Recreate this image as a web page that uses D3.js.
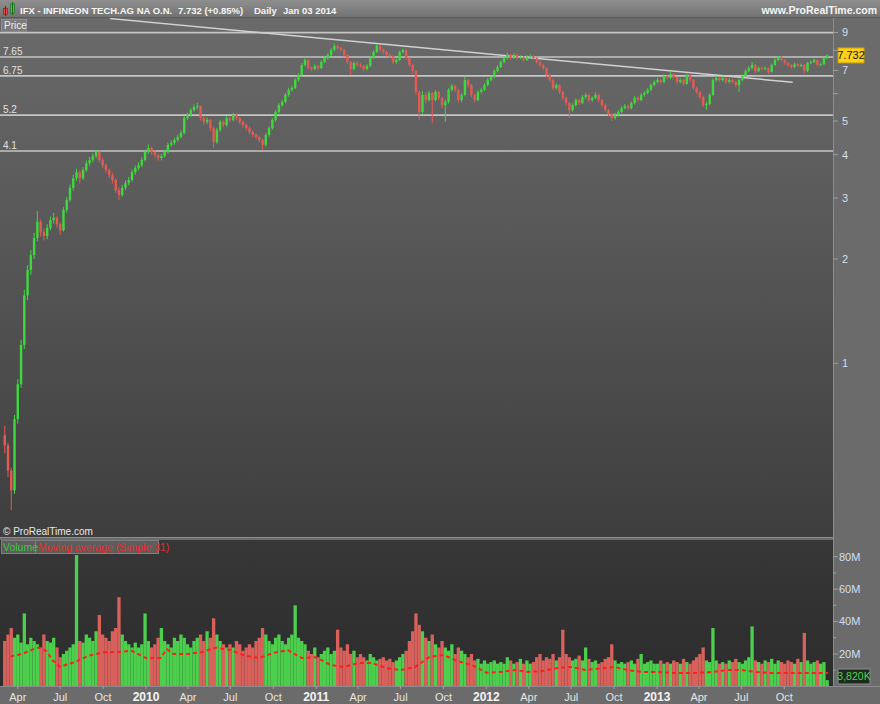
<!DOCTYPE html>
<html><head><meta charset="utf-8">
<script src="https://cdn.jsdelivr.net/npm/d3@7"></script>
<style>
body{margin:0;background:#6b6b6b;}
svg{display:block;font-family:"Liberation Sans",Arial,sans-serif;}
</style>
</head><body>
<svg id="c" width="880" height="704"></svg>
<script>
// ---------------- DATA (weekly bars) ----------------
const startWeek = "2009-03-02";
const firstOpen = 0.62;
const close = [
.58,.49,.43,.69,.87,1.13,1.57,1.86,2.05,2.30,
2.56,2.39,2.33,2.46,2.59,2.63,2.52,2.42,2.77,2.96,
3.21,3.42,3.56,3.42,3.61,3.78,3.86,3.96,4.07,3.86,
3.73,3.61,3.49,3.38,3.16,3.06,3.21,3.31,3.38,3.56,
3.66,3.73,3.86,4.07,4.18,4.07,3.99,3.91,3.96,4.07,
4.27,4.32,4.41,4.50,4.62,5.10,5.21,5.38,5.49,5.52,
5.10,4.97,5.04,4.77,4.35,4.71,4.97,4.87,5.10,5.04,
5.21,5.10,4.97,4.87,4.77,4.65,4.56,4.50,4.41,4.27,
4.56,4.77,5.04,5.31,5.56,5.68,5.95,6.15,6.23,6.57,
6.79,7.26,7.50,7.11,7.07,7.21,7.11,7.40,7.60,7.76,
8.02,8.23,8.13,8.02,7.76,7.40,7.07,7.35,7.26,7.21,
7.07,7.21,7.60,7.91,8.23,8.02,7.91,7.76,7.70,7.40,
7.50,7.91,8.02,7.60,7.26,6.97,6.07,5.31,5.95,5.75,
6.03,5.75,6.07,5.83,5.56,5.68,6.15,6.31,6.15,5.75,
5.95,6.57,6.35,5.95,5.75,6.07,6.15,6.35,6.57,6.70,
6.97,7.16,7.40,7.60,7.76,7.60,7.76,7.60,7.65,7.50,
7.65,7.70,7.60,7.40,7.26,7.11,6.79,6.57,6.23,6.35,
6.07,5.83,5.64,5.38,5.56,5.75,5.64,5.87,5.95,5.75,
5.83,5.95,5.75,5.56,5.38,5.24,5.10,5.21,5.31,5.45,
5.52,5.45,5.64,5.83,5.75,5.95,6.03,6.15,6.35,6.48,
6.57,6.48,6.75,6.66,6.84,6.70,6.48,6.57,6.40,6.79,
6.57,6.23,6.07,5.87,5.56,5.60,5.95,6.57,6.66,6.57,
6.66,6.48,6.57,6.48,6.35,6.57,6.75,6.97,7.11,7.26,
6.97,7.11,7.07,7.11,6.93,7.26,7.50,7.65,7.50,7.35,
7.26,7.16,7.30,7.21,7.26,6.97,7.35,7.40,7.50,7.26,
7.30,7.60,7.732];
const high = [
.66,.59,.50,.71,.90,1.17,1.63,1.92,2.12,2.38,
2.75,2.60,2.45,2.52,2.65,2.72,2.66,2.55,2.82,3.02,
3.28,3.50,3.64,3.60,3.68,3.85,3.94,4.03,4.13,4.10,
3.92,3.78,3.65,3.55,3.42,3.22,3.27,3.37,3.45,3.62,
3.72,3.80,3.93,4.14,4.28,4.22,4.12,4.03,4.02,4.13,
4.33,4.40,4.48,4.57,4.70,5.18,5.28,5.45,5.58,5.65,
5.55,5.16,5.12,5.08,4.82,4.78,5.04,5.02,5.17,5.15,
5.28,5.26,5.14,5.02,4.92,4.82,4.70,4.62,4.55,4.46,
4.62,4.83,5.10,5.38,5.63,5.76,6.03,6.24,6.33,6.65,
6.88,7.35,7.65,7.55,7.20,7.30,7.28,7.48,7.70,7.86,
8.12,8.35,8.30,8.20,8.08,7.82,7.45,7.42,7.44,7.35,
7.28,7.30,7.68,8.00,8.35,8.28,8.10,7.98,7.85,7.75,
7.58,7.98,8.10,8.06,7.65,7.32,7.02,6.12,6.10,6.05,
6.12,6.08,6.15,6.12,5.88,5.76,6.22,6.40,6.36,6.20,
6.03,6.70,6.62,6.40,6.00,6.14,6.24,6.43,6.65,6.78,
7.05,7.25,7.48,7.70,7.88,7.82,7.85,7.82,7.74,7.70,
7.74,7.80,7.76,7.65,7.45,7.32,7.15,6.85,6.62,6.43,
6.40,6.12,5.88,5.68,5.63,5.82,5.80,5.94,6.03,6.00,
5.90,6.05,6.00,5.80,5.62,5.42,5.28,5.28,5.38,5.52,
5.60,5.58,5.70,5.90,5.90,6.02,6.10,6.22,6.42,6.56,
6.66,6.62,6.82,6.80,6.92,6.88,6.74,6.64,6.62,6.86,
6.84,6.62,6.28,6.12,5.92,5.68,6.02,6.64,6.75,6.72,
6.74,6.70,6.64,6.62,6.52,6.62,6.82,7.05,7.20,7.40,
7.30,7.18,7.18,7.18,7.15,7.32,7.58,7.72,7.70,7.55,
7.40,7.30,7.36,7.35,7.33,7.30,7.42,7.48,7.58,7.55,
7.38,7.66,7.78];
const low = [
.55,.47,.377,.42,.67,.85,1.10,1.52,1.80,2.00,
2.25,2.32,2.26,2.28,2.42,2.53,2.46,2.35,2.40,2.72,
2.92,3.15,3.36,3.30,3.38,3.56,3.72,3.80,3.90,3.80,
3.66,3.55,3.42,3.30,3.10,2.96,3.02,3.16,3.26,3.34,
3.50,3.60,3.68,3.82,4.02,4.00,3.92,3.84,3.85,3.92,
4.03,4.22,4.27,4.36,4.45,4.58,5.04,5.15,5.32,5.40,
5.02,4.88,4.90,4.68,4.18,4.30,4.66,4.80,4.82,4.97,
4.99,5.03,4.90,4.80,4.70,4.58,4.49,4.43,4.34,4.13,
4.22,4.51,4.72,4.98,5.26,5.50,5.62,5.88,6.08,6.18,
6.50,6.72,7.18,7.02,6.96,7.00,7.02,7.05,7.34,7.52,
7.70,7.95,8.02,7.92,7.66,7.30,6.80,7.00,7.18,7.12,
6.96,7.00,7.15,7.55,7.85,7.94,7.82,7.68,7.60,7.30,
7.32,7.45,7.84,7.50,7.15,6.85,5.95,5.04,5.25,5.62,
5.70,4.93,5.70,5.74,5.45,4.97,5.62,6.08,6.06,5.66,
5.68,5.90,6.25,5.86,5.66,5.70,6.00,6.10,6.30,6.50,
6.64,6.90,7.10,7.34,7.52,7.52,7.55,7.52,7.54,7.42,
7.45,7.58,7.52,7.32,7.18,7.02,6.70,6.48,6.14,6.16,
5.98,5.74,5.55,5.10,5.32,5.50,5.56,5.60,5.80,5.68,
5.68,5.78,5.66,5.48,5.30,5.16,5.00,5.04,5.15,5.26,
5.40,5.38,5.40,5.58,5.68,5.70,5.88,5.98,6.10,6.30,
6.42,6.40,6.44,6.58,6.60,6.62,6.40,6.42,6.32,6.36,
6.50,6.15,5.98,5.78,5.48,5.38,5.55,5.90,6.50,6.48,
6.50,6.40,6.42,6.40,6.26,6.07,6.52,6.70,6.92,7.05,
6.88,6.92,7.00,7.00,6.84,6.90,7.22,7.44,7.42,7.28,
7.18,7.08,7.10,7.14,7.15,6.86,6.92,7.30,7.35,7.18,
7.20,7.25,7.55];
// volume, millions of shares
const volume = [
28,32,36,30,32,27,45,26,30,28,
26,24,32,28,27,30,24,18,20,22,
24,26,81,28,27,32,30,28,34,44,
32,30,28,34,36,55,32,28,26,24,
27,24,26,45,28,24,26,30,36,28,
26,24,30,28,32,30,26,24,28,30,
32,28,34,30,42,32,28,26,24,26,
24,28,26,22,24,26,24,28,30,36,
32,28,26,30,32,28,26,30,32,50,
30,28,26,22,20,24,18,20,22,24,
20,22,35,24,22,26,20,22,18,20,
18,16,20,18,16,17,18,16,17,15,
16,18,20,22,28,34,45,38,34,30,
28,32,26,24,28,24,22,26,20,24,
22,20,18,20,16,17,14,16,14,15,
16,14,15,14,18,16,14,15,17,14,
16,14,15,18,20,16,18,17,20,16,
18,35,20,18,16,17,19,16,24,17,
15,16,14,15,17,18,26,16,14,15,
14,15,16,14,17,20,14,15,16,14,
14,16,14,15,14,16,15,14,17,15,
14,16,18,20,24,16,15,36,16,14,
15,14,16,15,17,15,14,16,18,37,
16,15,14,16,15,17,14,16,15,14,
16,15,14,17,15,33,16,14,15,16,
14,15,3.82];
// simple moving average of volume (31)
const maDates = ["2009-03-16","2009-04-01","2009-04-15","2009-05-01","2009-05-15","2009-06-01","2009-06-15","2009-07-01","2009-07-15","2009-08-01","2009-09-01","2009-10-01","2009-11-01","2009-12-01",
"2010-01-01","2010-02-01","2010-02-15","2010-03-01","2010-04-01","2010-05-01","2010-06-01","2010-07-01","2010-08-01","2010-09-01","2010-10-01","2010-11-01","2010-12-01",
"2011-01-01","2011-02-01","2011-03-01","2011-04-01","2011-05-01","2011-06-01","2011-07-01","2011-08-01","2011-09-01","2011-10-01","2011-11-01","2011-12-01",
"2012-01-01","2012-02-01","2012-03-01","2012-04-01","2012-05-01","2012-06-01","2012-07-01","2012-08-01","2012-09-01","2012-10-01","2012-11-01","2012-12-01",
"2013-01-01","2013-02-01","2013-03-01","2013-04-01","2013-05-01","2013-06-01","2013-07-01","2013-08-01","2013-09-01","2013-10-01","2013-11-01","2013-12-01","2014-01-03"];
const maValues = [18.5,19.4,20.6,22.5,24.0,22.0,16.0,12.0,13.5,15.0,19.0,21.0,21.2,22.0,
17.5,17.5,23.0,20.0,20.0,21.2,24.0,22.4,19.0,17.5,20.6,22.4,17.5,
18.0,13.2,12.0,14.4,14.4,11.3,10.1,12.0,18.1,19.4,15.5,13.2,
8.5,8.9,10.1,8.9,9.5,11.3,12.0,10.1,11.0,12.0,10.0,8.9,
8.9,8.3,8.3,8.3,8.9,10.1,10.1,8.9,8.3,8.3,8.3,8.3,8.3];
const levelPrices = [9, 7.65, 6.75, 5.2, 4.1];
const levelLabels = ["", "7.65", "6.75", "5.2", "4.1"];
const trendDates = ["2009-10-16", "2013-10-19"];
const trendPrices = [9.88, 6.47];
const priceTicks = [1,2,3,4,5,6,7,8,9];
const priceTickLabels = ["1","2","3","4","5","","7","","9"];
const volTicks = [10,20,30,40,50,60,70,80];
const volTickLabels = ["","20M","","40M","","60M","","80M"];
const axisDates = ["2009-04-01","2009-07-01","2009-10-01","2010-01-01","2010-04-01","2010-07-01","2010-10-01","2011-01-01","2011-04-01","2011-07-01","2011-10-01","2012-01-01","2012-04-01","2012-07-01","2012-10-01","2013-01-01","2013-04-01","2013-07-01","2013-10-01"];
const axisLabels = ["Apr","Jul","Oct","2010","Apr","Jul","Oct","2011","Apr","Jul","Oct","2012","Apr","Jul","Oct","2013","Apr","Jul","Oct"];
const lastPrice = "7.732";
const lastVolume = "3,820K";
const titleParts = ["IFX - INFINEON TECH.AG NA O.N.", "7.732 (+0.85%)", "Daily", "Jan 03 2014"];

// ---------------- DRAWING ----------------
const parse = d3.timeParse("%Y-%m-%d");
const svg = d3.select("#c");
const defs = svg.append("defs");
function vgrad(id, c1, c2){
  const g = defs.append("linearGradient").attr("id", id).attr("x1",0).attr("y1",0).attr("x2",0).attr("y2",1);
  g.append("stop").attr("offset","0%").attr("stop-color",c1);
  g.append("stop").attr("offset","100%").attr("stop-color",c2);
}
vgrad("gHead", "#8f8f8f", "#727272");
vgrad("gPrice", "#6a6a6a", "#3e3e3e");
vgrad("gVol", "#373737", "#2c2c2c");

const PR = 833, PT = 18, PB = 537, VT = 540, VB = 686;

svg.append("rect").attr("width",880).attr("height",704).attr("fill","#6b6b6b");
svg.append("rect").attr("width",880).attr("height",17).attr("fill","url(#gHead)");
svg.append("line").attr("x1",0).attr("x2",880).attr("y1",17.5).attr("y2",17.5).attr("stroke","#5c5c5c");
svg.append("rect").attr("x",0).attr("y",PT).attr("width",PR).attr("height",PB-PT).attr("fill","url(#gPrice)");
svg.append("rect").attr("x",0).attr("y",VT).attr("width",PR).attr("height",VB-VT).attr("fill","url(#gVol)");
svg.append("line").attr("x1",0).attr("x2",PR).attr("y1",PB+0.5).attr("y2",PB+0.5).attr("stroke","#8c8c8c");
svg.append("line").attr("x1",0).attr("x2",880).attr("y1",VB+0.5).attr("y2",VB+0.5).attr("stroke","#8c8c8c");
svg.append("line").attr("x1",PR+0.5).attr("x2",PR+0.5).attr("y1",PT).attr("y2",VB).attr("stroke","#8c8c8c");

defs.append("clipPath").attr("id","cpP").append("rect").attr("x",0).attr("y",PT).attr("width",PR).attr("height",PB-PT);
defs.append("clipPath").attr("id","cpV").append("rect").attr("x",0).attr("y",VT).attr("width",PR).attr("height",VB-VT);

const x = d3.scaleTime().domain([parse("2009-03-02"), parse("2014-01-06")]).range([3.8, 829.5]);
const y = d3.scaleLog().domain([1, 9]).range([363.3, 32.6]);
const yv = d3.scaleLinear().domain([0, 80]).range([686.4, 556.7]);

const t0 = parse(startWeek);
const bars = close.map((c, i) => ({
  date: d3.timeDay.offset(t0, 7*i + 2),
  o: i ? close[i-1] : firstOpen, c, h: high[i], l: low[i], v: volume[i]
}));
const GREEN = "#3fd83f", RED = "#e35b55";
const VGREEN = "#4ccf4c", VRED = "#d9615c";

// level lines
const pg = svg.append("g").attr("clip-path","url(#cpP)");
pg.selectAll("line.lvl").data(levelPrices).join("line").attr("class","lvl")
  .attr("x1",0).attr("x2",PR).attr("y1",d=>y(d)).attr("y2",d=>y(d))
  .attr("stroke","#c4c4c4").attr("stroke-width",1.6);
pg.selectAll("text.lvl").data(levelPrices).join("text").attr("class","lvl")
  .attr("x",3).attr("y",d=>y(d)-2).text((d,i)=>levelLabels[i])
  .attr("fill","#e2e2e2").attr("font-size",10);

// trend line
pg.append("line")
  .attr("x1", x(parse(trendDates[0]))).attr("y1", y(trendPrices[0]))
  .attr("x2", x(parse(trendDates[1]))).attr("y2", y(trendPrices[1]))
  .attr("stroke","#d0d0d0").attr("stroke-width",1.5);

// candles
const cg = pg.append("g");
cg.selectAll("line.w").data(bars).join("line").attr("class","w")
  .attr("x1",d=>x(d.date)).attr("x2",d=>x(d.date))
  .attr("y1",d=>y(d.h)).attr("y2",d=>y(d.l))
  .attr("stroke",d=>d.c>=d.o?GREEN:RED).attr("stroke-width",1);
cg.selectAll("rect.b").data(bars).join("rect").attr("class","b")
  .attr("x",d=>x(d.date)-1.2).attr("width",2.4)
  .attr("y",d=>y(Math.max(d.o,d.c)))
  .attr("height",d=>Math.max(1, Math.abs(y(d.o)-y(d.c))))
  .attr("fill",d=>d.c>=d.o?GREEN:RED);

// volume
const vg = svg.append("g").attr("clip-path","url(#cpV)");
vg.selectAll("rect.v").data(bars).join("rect").attr("class","v")
  .attr("x",d=>x(d.date)-1.65).attr("width",3.3)
  .attr("y",d=>yv(d.v)).attr("height",d=>yv(0)-yv(d.v))
  .attr("fill",d=>d.c>=d.o?VGREEN:VRED);
vg.append("path")
  .datum(maDates.map((d,i)=>({date:parse(d), v:maValues[i]})))
  .attr("d", d3.line().x(d=>x(d.date)).y(d=>yv(d.v)))
  .attr("fill","none").attr("stroke","#ff1e1e").attr("stroke-width",2)
  .attr("stroke-dasharray","4,3");

// price axis
const AX = "#d3deec";
svg.selectAll("line.pt").data(priceTicks).join("line").attr("class","pt")
  .attr("x1",PR).attr("x2",PR+5).attr("y1",d=>y(d)).attr("y2",d=>y(d))
  .attr("stroke","#a0a0a0");
svg.selectAll("text.pt").data(priceTicks).join("text").attr("class","pt")
  .attr("x",PR+9).attr("y",d=>y(d)).attr("dy","0.35em")
  .text((d,i)=>priceTickLabels[i]).attr("fill",AX).attr("font-size",11);

// last price tag
const lp = +lastPrice;
svg.append("rect").attr("x",838).attr("y",y(lp)-7.5).attr("width",26).attr("height",15)
  .attr("fill","#ffd21a").attr("stroke","#c9a000");
svg.append("text").attr("x",851).attr("y",y(lp)).attr("dy","0.35em").attr("text-anchor","middle")
  .attr("font-size",11).attr("fill","#111").text(lastPrice);

// volume axis
svg.selectAll("line.vt").data(volTicks).join("line").attr("class","vt")
  .attr("x1",PR).attr("x2",(d,i)=>PR+(volTickLabels[i]?5:3)).attr("y1",d=>yv(d)).attr("y2",d=>yv(d))
  .attr("stroke","#a0a0a0");
svg.selectAll("text.vt").data(volTicks).join("text").attr("class","vt")
  .attr("x",PR+6).attr("y",d=>yv(d)).attr("dy","0.35em")
  .text((d,i)=>volTickLabels[i]).attr("fill",AX).attr("font-size",11);
svg.append("rect").attr("x",838).attr("y",669).attr("width",32).attr("height",15)
  .attr("fill","#1f2a1f").attr("stroke","#8c8c8c");
svg.append("text").attr("x",854).attr("y",676.5).attr("dy","0.35em").attr("text-anchor","middle")
  .attr("font-size",10.5).attr("fill","#4fd34f").text(lastVolume);

// time axis
const ad = axisDates.map(parse);
svg.selectAll("line.xt").data(ad).join("line").attr("class","xt")
  .attr("x1",d=>x(d)).attr("x2",d=>x(d)).attr("y1",VB).attr("y2",VB+3).attr("stroke","#a0a0a0");
svg.selectAll("text.xt").data(ad).join("text").attr("class","xt")
  .attr("x",d=>x(d)).attr("y",701).attr("text-anchor","middle")
  .text((d,i)=>axisLabels[i])
  .attr("font-size",(d,i)=>/^\d/.test(axisLabels[i])?12:11)
  .attr("font-weight",(d,i)=>/^\d/.test(axisLabels[i])?"bold":"normal")
  .attr("fill",(d,i)=>/^\d/.test(axisLabels[i])?"#f4f4f4":"#e4e4e4");

// header
svg.append("rect").attr("x",3.5).attr("y",8.5).attr("width",4).attr("height",6).attr("fill","#e04848").attr("stroke","#802020").attr("stroke-width",0.6);
svg.append("line").attr("x1",5.5).attr("x2",5.5).attr("y1",6).attr("y2",16).attr("stroke","#802020");
svg.append("rect").attr("x",10.5).attr("y",4).attr("width",4).attr("height",9).attr("fill","#3ccc3c").attr("stroke","#1a6a1a").attr("stroke-width",0.6);
svg.append("line").attr("x1",12.5).attr("x2",12.5).attr("y1",2).attr("y2",15).attr("stroke","#1a6a1a");
const hx = [20, 178, 254, 283];
titleParts.forEach((t,i)=>{
  svg.append("text").attr("x",hx[i]).attr("y",13.5).attr("font-size",9.5).attr("font-weight","bold")
    .attr("fill","#f6f6f6").text(t);
});
svg.append("text").attr("x",877).attr("y",13.5).attr("text-anchor","end").attr("font-size",10.5)
  .attr("font-weight","bold").attr("fill","#f6f6f6").text("www.ProRealTime.com");

// panel labels
svg.append("rect").attr("x",1.5).attr("y",19.5).attr("width",25).attr("height",12).attr("fill","#7b7b7b").attr("stroke","#8e8e8e");
svg.append("text").attr("x",4).attr("y",29).attr("font-size",10).attr("fill","#eeeeee").text("Price");
svg.append("text").attr("x",3).attr("y",535).attr("font-size",10).attr("fill","#e8e8e8").text("\u00A9 ProRealTime.com");
svg.append("rect").attr("x",1.5).attr("y",540.5).attr("width",157).attr("height",13).attr("fill","#5d5d5d").attr("stroke","#7e7e7e");
svg.append("line").attr("x1",35.5).attr("x2",35.5).attr("y1",541).attr("y2",553).attr("stroke","#7e7e7e");
svg.append("text").attr("x",3).attr("y",551).attr("font-size",10.5).attr("fill","#44c444").text("Volume");
svg.append("text").attr("x",38).attr("y",551).attr("font-size",10.5).attr("fill","#ee2828").text("Moving average (Simple 31)");
</script>
</body></html>
